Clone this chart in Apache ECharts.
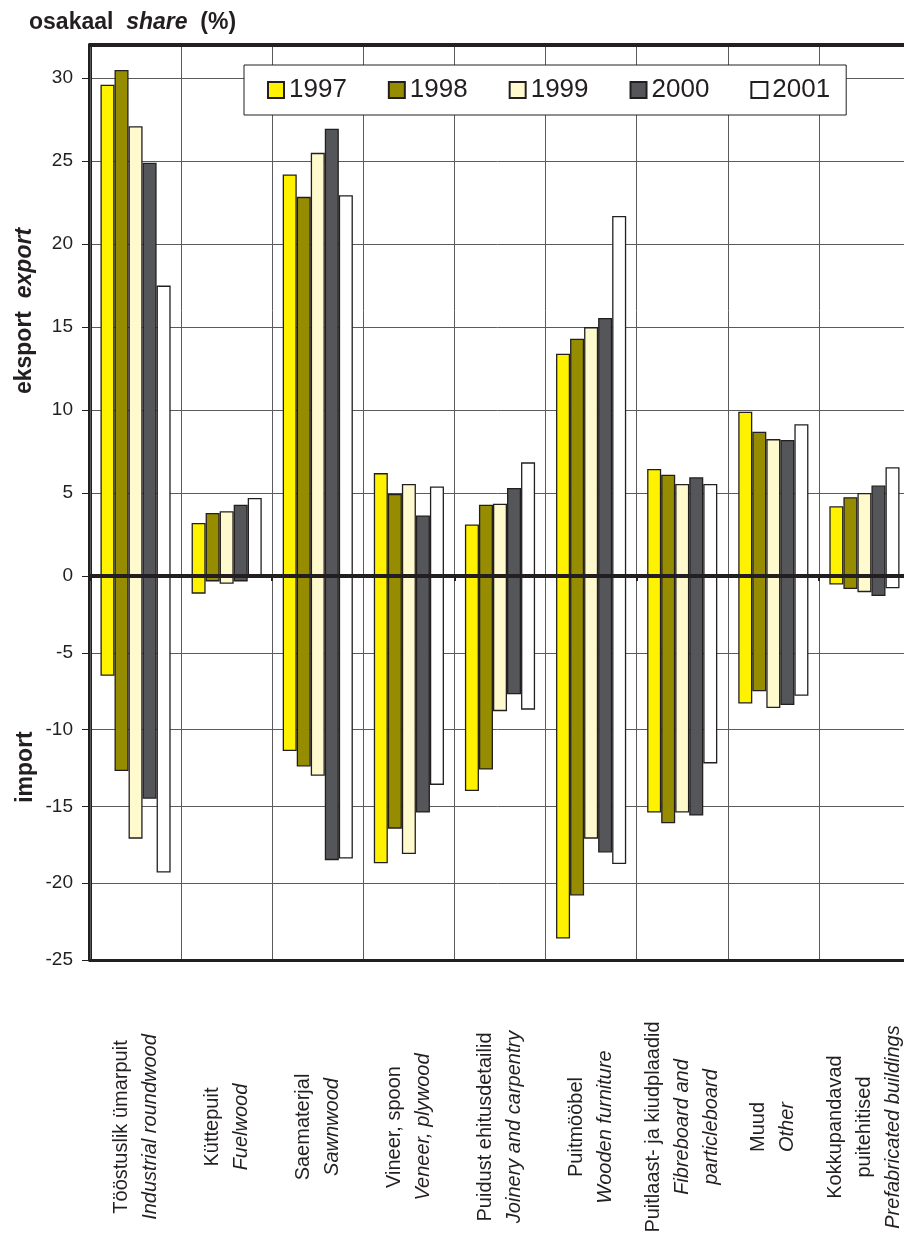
<!DOCTYPE html>
<html>
<head>
<meta charset="utf-8">
<script src="https://cdn.jsdelivr.net/npm/echarts@6/dist/echarts.min.js"></script>
<style>
html,body{margin:0;padding:0;background:#fff;}
#chart{width:904px;height:1233px;}
</style>
</head>
<body>
<div id="chart"></div>
<script>
// ---- data ----
const years = ['1997', '1998', '1999', '2000', '2001'];
const catEt = ['Tööstuslik ümarpuit', 'Küttepuit', 'Saematerjal', 'Vineer, spoon', 'Puidust ehitusdetailid', 'Puitmööbel', 'Puitlaast- ja kiudplaadid', 'Muud', 'Kokkupandavad\npuitehitised'];
const catEn = ['Industrial roundwood', 'Fuelwood', 'Sawnwood', 'Veneer, plywood', 'Joinery and carpentry', 'Wooden furniture', 'Fibreboard and\nparticleboard', 'Other', 'Prefabricated buildings'];

const export1997 = [29.6, 3.2, 24.2, 6.2, 3.1, 13.4, 6.45, 9.9, 4.2];
const export1998 = [30.5, 3.8, 22.85, 4.95, 4.3, 14.3, 6.1, 8.7, 4.75];
const export1999 = [27.1, 3.9, 25.5, 5.55, 4.35, 15.0, 5.55, 8.25, 5.0];
const export2000 = [24.9, 4.3, 26.95, 3.65, 5.3, 15.55, 5.95, 8.2, 5.45];
const export2001 = [17.5, 4.7, 22.95, 5.4, 6.85, 21.7, 5.55, 9.15, 6.55];

const import1997 = [-6.5, -1.15, -11.4, -18.7, -14.0, -23.6, -15.4, -8.3, -0.55];
const import1998 = [-12.7, -0.35, -12.4, -16.45, -12.6, -20.8, -16.1, -7.5, -0.85];
const import1999 = [-17.1, -0.5, -13.0, -18.1, -8.8, -17.1, -15.4, -8.6, -1.05];
const import2000 = [-14.5, -0.35, -18.5, -15.4, -7.7, -18.0, -15.6, -8.4, -1.3];
const import2001 = [-19.3, 0, -18.4, -13.6, -8.7, -18.75, -12.2, -7.8, -0.8];

const exportTicks = [0, 5, 10, 15, 20, 25, 30];
const importTicks = [-25, -20, -15, -10, -5];

// ---- styles ----
const FONT = '"Liberation Sans", Arial, Helvetica, sans-serif';
const INK = '#231f20';
const GRID = '#5b5b5b';
const barColors = ['#fff200', '#968c00', '#fffacd', '#55565a', '#ffffff'];
const exportData = [export1997, export1998, export1999, export2000, export2001];
const importData = [import1997, import1998, import1999, import2000, import2001];

const series = [];
years.forEach((y, i) => {
  const st = { color: barColors[i], borderColor: INK, borderWidth: 1.3 };
  series.push({ name: y, type: 'bar', xAxisIndex: 0, yAxisIndex: 0, data: exportData[i],
    barGap: '0%', barCategoryGap: '23%', itemStyle: st, z: 2 });
});
years.forEach((y, i) => {
  const st = { color: barColors[i], borderColor: INK, borderWidth: 1.3 };
  series.push({ name: y, type: 'bar', xAxisIndex: 2, yAxisIndex: 1, data: importData[i],
    barGap: '0%', barCategoryGap: '23%', itemStyle: st, z: 2 });
});

function catLabel(value, idx) {
  const a = catEt[idx].split('\n').map(s => '{a|' + s + '}');
  const b = catEn[idx].split('\n').map(s => '{b|' + s + '}');
  return a.concat(b).join('\n');
}

const yCommon = {
  type: 'value', interval: 5,
  axisLine: { show: true, lineStyle: { color: INK, width: 4 } },
  axisTick: { show: true, inside: false, length: 8, lineStyle: { color: INK, width: 1 } },
  axisLabel: { margin: 17, fontSize: 19, color: INK, fontFamily: FONT },
  splitLine: { show: true, lineStyle: { color: GRID, width: 1 } }
};

const option = {
  animation: false,
  backgroundColor: '#fff',
  textStyle: { fontFamily: FONT },
  grid: [
    { left: 90, top: 45, right: -6, height: 531, containLabel: false, outerBoundsMode: 'none' },
    { left: 90, top: 576, right: -6, height: 384, containLabel: false, outerBoundsMode: 'none' }
  ],
  legend: {
    data: years, left: 244, top: 65, orient: 'horizontal', icon: 'rect',
    itemWidth: 16, itemHeight: 16, itemGap: 41,
    padding: [12, 16, 12, 23],
    borderColor: INK, borderWidth: 1, backgroundColor: '#fff',
    textStyle: { fontSize: 26, color: INK, fontFamily: FONT },
    z: 10
  },
  xAxis: [
    { gridIndex: 0, type: 'category', data: catEt, position: 'bottom', z: 5,
      axisLine: { show: true, onZero: false, lineStyle: { color: INK, width: 4 } },
      axisTick: { show: true, length: 5, lineStyle: { color: INK, width: 2 } },
      axisLabel: { show: false },
      splitLine: { show: true, interval: 0, lineStyle: { color: GRID, width: 1 } } },
    { gridIndex: 0, type: 'category', data: catEt, position: 'top', z: 5,
      axisLine: { show: true, onZero: false, lineStyle: { color: INK, width: 4 } },
      axisTick: { show: false }, axisLabel: { show: false }, splitLine: { show: false } },
    { gridIndex: 1, type: 'category', data: catEt, position: 'bottom', z: 5,
      axisLine: { show: true, onZero: false, lineStyle: { color: INK, width: 3 } },
      axisTick: { show: false },
      axisLabel: {
        interval: 0, rotate: 90, margin: 167, align: 'center', verticalAlign: 'middle',
        formatter: catLabel,
        rich: {
          a: { fontSize: 20, lineHeight: 29, color: INK, fontFamily: FONT, align: 'center' },
          b: { fontSize: 20, lineHeight: 29, color: INK, fontFamily: FONT, fontStyle: 'italic', align: 'center' }
        }
      },
      splitLine: { show: true, interval: 0, lineStyle: { color: GRID, width: 1 } } }
  ],
  yAxis: [
    Object.assign({}, yCommon, { gridIndex: 0, min: 0, max: 32,
      axisLabel: Object.assign({}, yCommon.axisLabel, { customValues: exportTicks }),
      axisTick: Object.assign({}, yCommon.axisTick, { customValues: exportTicks }) }),
    Object.assign({}, yCommon, { gridIndex: 1, min: -25, max: 0,
      axisLabel: Object.assign({}, yCommon.axisLabel, { customValues: importTicks }),
      axisTick: Object.assign({}, yCommon.axisTick, { customValues: importTicks.concat([0]) }) })
  ],
  graphic: [
    { type: 'text', x: 29, y: 23, z: 10,
      style: { text: '{b|osakaal}  {i|share}  {b|(%)}', align: 'left', verticalAlign: 'middle',
        font: 'bold 23px ' + FONT, fill: INK,
        rich: { b: { fontWeight: 'bold', fontSize: 23, fontFamily: FONT, fill: INK },
                i: { fontWeight: 'bold', fontStyle: 'italic', fontSize: 23, fontFamily: FONT, fill: INK } } } },
    { type: 'text', x: 25, y: 311, rotation: Math.PI / 2, z: 10,
      style: { text: '{b|eksport}  {i|export}', align: 'center', verticalAlign: 'middle',
        font: 'bold 23px ' + FONT, fill: INK,
        rich: { b: { fontWeight: 'bold', fontSize: 23, fontFamily: FONT, fill: INK },
                i: { fontWeight: 'bold', fontStyle: 'italic', fontSize: 23, fontFamily: FONT, fill: INK } } } },
    { type: 'text', x: 26, y: 767, rotation: Math.PI / 2, z: 10,
      style: { text: 'import', align: 'center', verticalAlign: 'middle',
        font: 'bold 23px ' + FONT, fill: INK } }
  ],
  series: series
};

const chart = echarts.init(document.getElementById('chart'), null, { renderer: 'canvas' });
chart.setOption(option);
</script>
</body>
</html>
